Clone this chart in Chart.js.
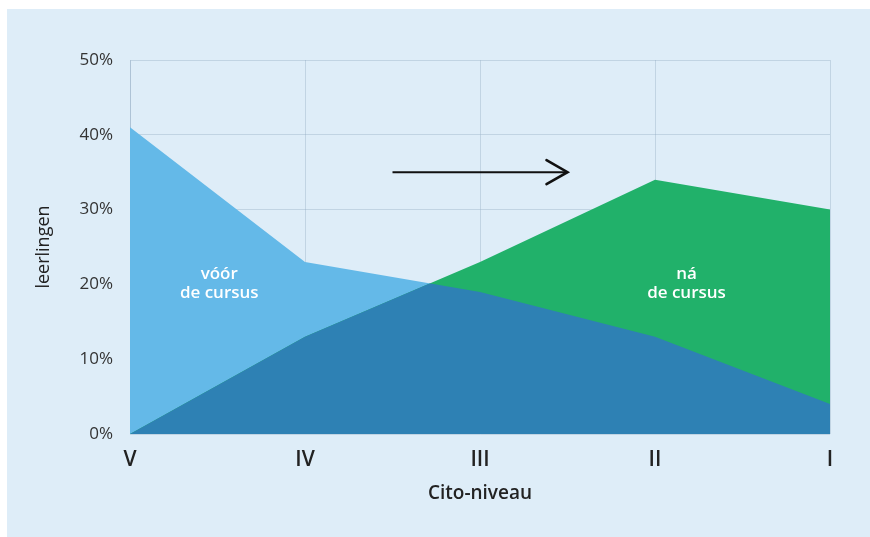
<!DOCTYPE html>
<html><head><meta charset="utf-8">
<script src="https://cdn.jsdelivr.net/npm/chart.js@4/dist/chart.umd.min.js"></script>
<style>
html,body{margin:0;padding:0;background:#fff;}
#wrap{position:absolute;left:0;top:0;width:870px;height:537px;}
#bg{position:absolute;left:7px;top:9px;width:863px;height:528px;background:#deedf8;}
canvas{position:absolute;left:0;top:0;}
</style></head><body>
<div id="wrap"><div id="bg"></div><canvas id="c" width="870" height="537"></canvas></div>
<script>
const categories = ['V','IV','III','II','I'];
const voorCursus = [41, 23, 19, 13, 4];
const naCursus = [0, 13, 23, 34, 30];
const yTicks = [0,10,20,30,40,50];
const areaLabels = [
  {text:['vóór','de cursus'], x:0.51, y:20.2},
  {text:['ná','de cursus'], x:3.18, y:20.2}
];
const arrow = {x1:1.5, x2:2.5, y:35};

const FONT = '"Open Sans", sans-serif';
const GRID = 'rgba(140,165,190,0.35)';

const overlapPlugin = {
  id:'overlap',
  afterDatasetsDraw(chart){
    const ctx = chart.ctx;
    const xs = chart.scales.x, ys = chart.scales.y;
    const poly = (vals)=>{
      ctx.beginPath();
      ctx.moveTo(xs.getPixelForValue(0), ys.getPixelForValue(0));
      vals.forEach((v,i)=>ctx.lineTo(xs.getPixelForValue(i), ys.getPixelForValue(v)));
      ctx.lineTo(xs.getPixelForValue(vals.length-1), ys.getPixelForValue(0));
      ctx.closePath();
    };
    ctx.save();
    poly(voorCursus); ctx.clip();
    poly(naCursus); ctx.fillStyle='#2e81b4'; ctx.fill();
    ctx.restore();

    ctx.save();
    ctx.fillStyle='#ffffff';
    ctx.font='600 17px '+FONT;
    ctx.textAlign='center'; ctx.textBaseline='middle';
    areaLabels.forEach(l=>{
      const px = xs.getPixelForValue(l.x), py = ys.getPixelForValue(l.y);
      ctx.fillText(l.text[0], px, py-9);
      ctx.fillText(l.text[1], px, py+10);
    });
    ctx.restore();
  },
  afterDraw(chart){
    const ctx = chart.ctx;
    const xs = chart.scales.x, ys = chart.scales.y;
    const x1 = xs.getPixelForValue(arrow.x1), x2 = xs.getPixelForValue(arrow.x2), y = ys.getPixelForValue(arrow.y);
    ctx.save();
    ctx.strokeStyle='#111'; ctx.lineWidth=2;
    ctx.beginPath(); ctx.moveTo(x1,y); ctx.lineTo(x2,y); ctx.stroke();
    ctx.lineWidth=2.6; ctx.lineCap='round'; ctx.lineJoin='miter';
    ctx.beginPath(); ctx.moveTo(x2-21,y-12); ctx.lineTo(x2,y); ctx.lineTo(x2-21,y+12); ctx.stroke();
    ctx.restore();
  }
};

new Chart(document.getElementById('c'), {
  type:'line',
  data:{
    labels:categories,
    datasets:[
      {label:'ná de cursus', data:naCursus, fill:'origin', backgroundColor:'#21b16a', borderWidth:0, pointRadius:0, tension:0},
      {label:'vóór de cursus', data:voorCursus, fill:'origin', backgroundColor:'#64b9e8', borderWidth:0, pointRadius:0, tension:0}
    ]
  },
  plugins:[overlapPlugin],
  options:{
    responsive:false, animation:false,
    layout:{padding:{top:60,right:40,left:0,bottom:0}},
    plugins:{legend:{display:false}, tooltip:{enabled:false}},
    scales:{
      x:{
        z:1,
        grid:{color:GRID, drawTicks:false, lineWidth:1},
        border:{display:false},
        ticks:{padding:13, color:'#222', font:{family:FONT, size:21, weight:'600'}, maxRotation:0},
        title:{display:true, text:'Cito-niveau', color:'#222', font:{family:FONT, size:19, weight:'600'}, padding:{top:0,bottom:32}},
        afterFit(s){ s.height = 103; }
      },
      y:{
        z:1,
        min:0, max:50,
        afterBuildTicks(s){ s.ticks = yTicks.map(v=>({value:v})); },
        grid:{color:GRID, drawTicks:false, lineWidth:1},
        border:{display:true, color:GRID},
        ticks:{padding:17, color:'#333', font:{family:FONT, size:17}, callback:v=>v+'%'},
        title:{display:true, text:'leerlingen', color:'#222', font:{family:FONT, size:18}, padding:{top:33,bottom:0}},
        afterFit(s){ s.width = 130; }
      }
    }
  }
});
</script>
</body></html>
